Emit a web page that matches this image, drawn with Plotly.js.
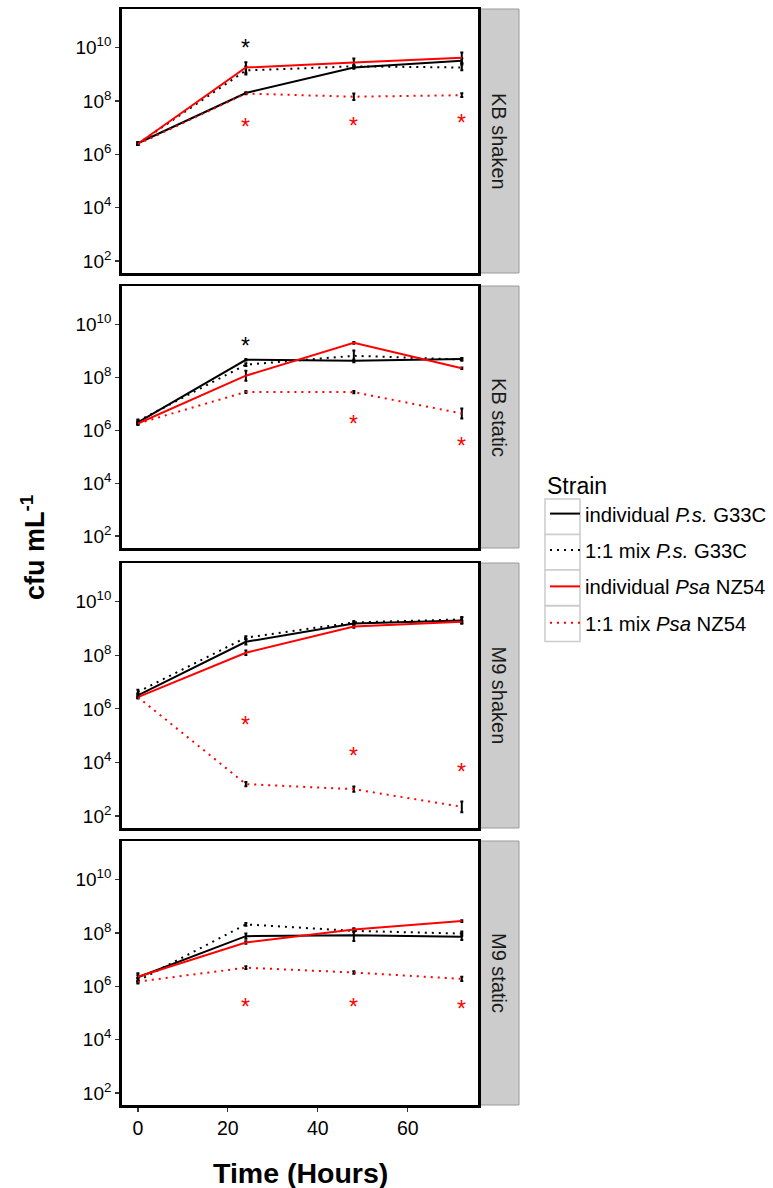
<!DOCTYPE html>
<html>
<head>
<meta charset="utf-8">
<script src="https://cdn.plot.ly/plotly-3.0.1.min.js"></script>
<style>html,body{margin:0;padding:0;background:#fff}#chart{width:773px;height:1188px}</style>
</head>
<body>
<div id="chart"></div>
<script>
// ---- data ----
const hours = [0, 24, 48, 72];
const panels = ['KB shaken', 'KB static', 'M9 shaken', 'M9 static'];
const strains = ['individual <i>P.s.</i> G33C', '1:1 mix <i>P.s.</i> G33C', 'individual <i>Psa</i> NZ54', '1:1 mix <i>Psa</i> NZ54'];

// cfu/mL per strain (order of strains) for each panel
const kbShaken = [
  [2.6e6, 2.0e8, 1.8e9, 3.2e9],
  [2.5e6, 1.4e9, 2.0e9, 1.8e9],
  [2.5e6, 1.8e9, 2.8e9, 4.2e9],
  [2.4e6, 1.9e8, 1.45e8, 1.65e8]
];
const kbStatic = [
  [2.0e6, 4.6e8, 4.2e8, 4.9e8],
  [2.2e6, 3.0e8, 6.5e8, 4.7e8],
  [1.8e6, 1.15e8, 2.0e9, 2.2e8],
  [1.8e6, 2.8e7, 2.75e7, 4.3e6]
];
const m9Shaken = [
  [3.2e6, 3.2e8, 1.55e9, 2.0e9],
  [4.3e6, 4.6e8, 1.7e9, 2.2e9],
  [2.75e6, 1.25e8, 1.2e9, 1.8e9],
  [2.75e6, 1.55e3, 1.0e3, 2.2e2]
];
const m9Static = [
  [2.2e6, 7.6e7, 8.3e7, 7.2e7],
  [1.6e6, 2.1e8, 1.2e8, 9.5e7],
  [2.3e6, 4.4e7, 1.35e8, 2.8e8],
  [1.5e6, 5.0e6, 3.3e6, 1.9e6]
];
// error half-widths, in log10 units
const kbShakenErr = [[0.05,0.03,0.05,0.10],[0.05,0.15,0.05,0.10],[0.05,0.20,0.15,0.20],[0.03,0.03,0.12,0.07]];
const kbStaticErr = [[0.06,0.03,0.05,0.04],[0.06,0.05,0.20,0.05],[0.05,0.19,0.03,0.03],[0.05,0.04,0.04,0.19]];
const m9ShakenErr = [[0.08,0.10,0.05,0.12],[0.08,0.05,0.05,0.08],[0.05,0.08,0.05,0.05],[0.03,0.08,0.10,0.20]];
const m9StaticErr = [[0.15,0.10,0.22,0.12],[0.10,0.05,0.05,0.08],[0.05,0.05,0.05,0.03],[0.03,0.05,0.05,0.08]];

// significance asterisks: [hour, height, colour]
const kbShakenStars = [[24, 1.55e10, 'black'], [24, 1.66e7, 'red'], [48, 1.8e7, 'red'], [72, 2.4e7, 'red']];
const kbStaticStars = [[24, 2.45e9, 'black'], [48, 2.75e6, 'red'], [72, 3.8e5, 'red']];
const m9ShakenStars = [[24, 4.0e5, 'red'], [48, 2.6e4, 'red'], [72, 6.5e3, 'red']];
const m9StaticStars = [[24, 2.7e5, 'red'], [48, 2.7e5, 'red'], [72, 2.1e5, 'red']];

const yTickVals = [1e2, 1e4, 1e6, 1e8, 1e10];
const yTickText = ['10<sup>2</sup>', '10<sup>4</sup>', '10<sup>6</sup>', '10<sup>8</sup>', '10<sup>10</sup>'];
const xTickVals = [0, 20, 40, 60];

// ---- styling ----
const colours = ['black', 'black', 'red', 'red'];
const dashes = ['solid', '2px,5px', 'solid', '2px,5px'];
const FONT = 'Liberation Sans, Arial, Helvetica, sans-serif';
const W = 773, H = 1188;
const plotLeft = 121.7, plotRight = 478;
const panelPx = [[9, 273], [286, 548], [563, 828], [841, 1105]];

const panelData = [kbShaken, kbStatic, m9Shaken, m9Static];
const panelErr = [kbShakenErr, kbStaticErr, m9ShakenErr, m9StaticErr];
const panelStars = [kbShakenStars, kbStaticStars, m9ShakenStars, m9StaticStars];

const traces = [];
const layout = {
  width: W, height: H,
  margin: {l: 0, r: 0, t: 0, b: 0},
  paper_bgcolor: 'white', plot_bgcolor: 'white',
  font: {family: FONT, color: 'black'},
  showlegend: true,
  legend: {
    x: 545 / W, y: 1 - 464 / H, xanchor: 'left', yanchor: 'top',
    title: {text: 'Strain', font: {size: 23, family: FONT}},
    font: {size: 20.3, family: FONT},
    tracegroupgap: 7,
    bgcolor: 'rgba(0,0,0,0)', borderwidth: 0,
    itemwidth: 30
  },
  shapes: [], annotations: []
};

panelPx.forEach((p, i) => {
  const n = i === 0 ? '' : String(i + 1);
  const xa = 'x' + n, ya = 'y' + n;
  const dom = [1 - p[1] / H, 1 - p[0] / H];
  const bottom = i === panelPx.length - 1;
  layout['xaxis' + n] = {
    domain: [plotLeft / W, plotRight / W], anchor: ya,
    range: [-3.6, 75.6], showgrid: false, zeroline: false,
    showline: true, mirror: true, linewidth: 2.5, linecolor: 'black',
    ticks: bottom ? 'outside' : '', ticklen: 4, tickwidth: 1.2, tickcolor: '#333',
    tickvals: xTickVals, showticklabels: bottom,
    tickfont: {size: 19.5, family: FONT, color: 'black'}
  };
  layout['yaxis' + n] = {
    domain: dom, anchor: xa, type: 'log',
    range: [1.55, 11.45], showgrid: false, zeroline: false,
    showline: true, mirror: true, linewidth: 2.5, linecolor: 'black',
    ticks: 'outside', ticklen: 4, tickwidth: 1.2, tickcolor: '#333',
    tickvals: yTickVals, ticktext: yTickText,
    tickfont: {size: 19, family: FONT, color: 'black'}
  };
  // strip
  layout.shapes.push({
    type: 'rect', xref: 'paper', yref: 'paper',
    x0: 479 / W, x1: 519 / W, y0: dom[0], y1: dom[1],
    fillcolor: '#cccccc', line: {color: '#9a9a9a', width: 1}, layer: 'below'
  });
  layout.annotations.push({
    xref: 'paper', yref: 'paper', x: 499 / W, y: (dom[0] + dom[1]) / 2,
    xanchor: 'center', yanchor: 'middle',
    text: panels[i], textangle: 90, showarrow: false,
    font: {size: 20, family: FONT, color: '#1a1a1a'}
  });

  const data = panelData[i], err = panelErr[i];
  data.forEach((vals, s) => {
    traces.push({
      type: 'scatter', mode: 'lines', x: hours, y: vals,
      xaxis: xa, yaxis: ya,
      name: strains[s], legendgroup: 'g' + s, showlegend: i === 0,
      line: {color: colours[s], width: 2, dash: dashes[s]},
      error_y: {
        type: 'data', symmetric: false,
        array: vals.map((v, k) => v * (Math.pow(10, err[s][k]) - 1)),
        arrayminus: vals.map((v, k) => v * (1 - Math.pow(10, -err[s][k]))),
        color: 'black', thickness: 2, width: 1.5
      },
      hoverinfo: 'x+y'
    });
  });
  panelStars[i].forEach(d => {
    layout.annotations.push({
      xref: xa, yref: ya, x: d[0], y: Math.log10(d[1]),
      text: '*', showarrow: false, xanchor: 'center', yanchor: 'middle',
      yshift: -5,
      font: {size: 23, family: FONT, color: d[2]}
    });
  });
});

// legend key boxes
[499, 534.5, 570, 606].forEach(top => {
  layout.shapes.push({
    type: 'rect', xref: 'paper', yref: 'paper',
    x0: 545 / W, x1: 580 / W, y0: 1 - (top + 35.5) / H, y1: 1 - top / H,
    fillcolor: 'white', line: {color: '#cccccc', width: 1.5}, layer: 'below'
  });
});

// axis titles
layout.annotations.push({
  xref: 'paper', yref: 'paper', x: 33 / W, y: 1 - 548 / H,
  xanchor: 'center', yanchor: 'middle',
  text: '<b>cfu mL<sup>-1</sup></b>', textangle: -90, showarrow: false,
  font: {size: 27, family: FONT, color: 'black'}
});
layout.annotations.push({
  xref: 'paper', yref: 'paper', x: 300 / W, y: 1 - 1173 / H,
  xanchor: 'center', yanchor: 'middle',
  text: '<b>Time (Hours)</b>', showarrow: false,
  font: {size: 28.5, family: FONT, color: 'black'}
});

Plotly.newPlot('chart', traces, layout, {displayModeBar: false, staticPlot: true});
</script>
</body>
</html>
